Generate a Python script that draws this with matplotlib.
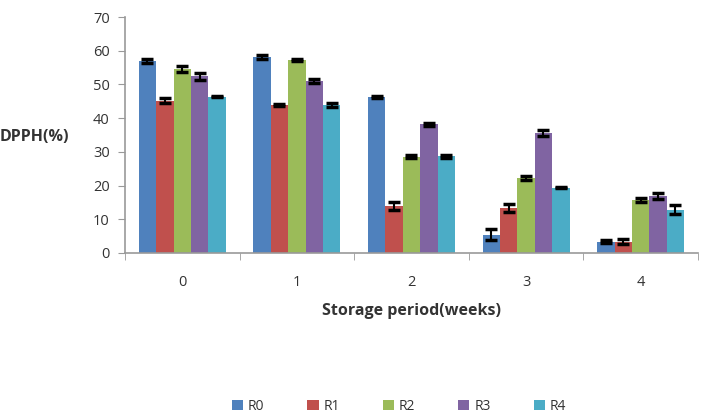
import numpy as np
import matplotlib
matplotlib.use("Agg")
import matplotlib.pyplot as plt

weeks = ["0", "1", "2", "3", "4"]
series = ["R0", "R1", "R2", "R3", "R4"]
colors = ["#4F81BD", "#C0504D", "#9BBB59", "#8064A2", "#4BACC6"]

# DPPH (%) per series, one value per week
r0 = [57.0, 58.0, 46.2, 5.4, 3.4]
r1 = [45.2, 44.0, 14.0, 13.3, 3.4]
r2 = [54.6, 57.2, 28.6, 22.2, 15.7]
r3 = [52.4, 51.0, 38.2, 35.7, 16.9]
r4 = [46.4, 44.0, 28.7, 19.4, 12.8]
values = [r0, r1, r2, r3, r4]

e0 = [0.5, 0.6, 0.3, 1.6, 0.5]
e1 = [0.8, 0.3, 1.2, 1.1, 0.8]
e2 = [0.8, 0.2, 0.4, 0.5, 0.5]
e3 = [1.0, 0.6, 0.4, 0.9, 1.0]
e4 = [0.2, 0.6, 0.4, 0.1, 1.3]
errors = [e0, e1, e2, e3, e4]

plt.rcParams['font.family'] = ['Open Sans', 'DejaVu Sans']

fig = plt.figure(figsize=(7.05, 4.17), dpi=100)
ax = fig.add_axes([0.1773, 0.3933, 0.8127, 0.5659])

x = np.arange(len(weeks))
width = 0.152
for i, (name, vals, errs, c) in enumerate(zip(series, values, errors, colors)):
    pos = x + (i - 2) * width
    ax.bar(pos, vals, width, color=c, label=name, zorder=2)
    ax.errorbar(pos, vals, yerr=errs, fmt="none", ecolor="black",
                elinewidth=1.5, capsize=4, capthick=2.5, zorder=3)

ax.set_xlim(-0.5, len(weeks) - 0.5)
ax.set_ylim(0, 70)
ax.set_yticks(range(0, 71, 10))
ax.set_xticks(x)
ax.set_xticklabels(weeks)
ax.set_xticks(np.arange(-0.5, len(weeks)), minor=True)
ax.tick_params(axis="x", which="major", length=0, pad=16, labelsize=10.5,
               colors="#333333")
ax.tick_params(axis="x", which="minor", length=5, color="#999999",
               direction="out")
ax.tick_params(axis="y", length=5, color="#999999", labelsize=10.5,
               colors="#333333", pad=6)

for s in ["top", "right"]:
    ax.spines[s].set_visible(False)
for s in ["left", "bottom"]:
    ax.spines[s].set_color("#999999")
    ax.spines[s].set_linewidth(1.2)

ax.set_xlabel("Storage period(weeks)", fontsize=11.5, fontweight="bold",
              color="#333333", labelpad=9)
fig.text(0.0, 0.672, "DPPH(%)", fontsize=11.5, fontweight="bold",
         color="#333333", ha="left", va="center")

handles, labels = ax.get_legend_handles_labels()
fig.legend(handles, labels, loc="center", bbox_to_anchor=(0.566, 0.026),
           ncol=5, frameon=False, fontsize=10, handlelength=0.8,
           handleheight=0.8, handletextpad=0.35, columnspacing=3.1,
           labelcolor="#333333")

fig.savefig("out.png", dpi=100)
